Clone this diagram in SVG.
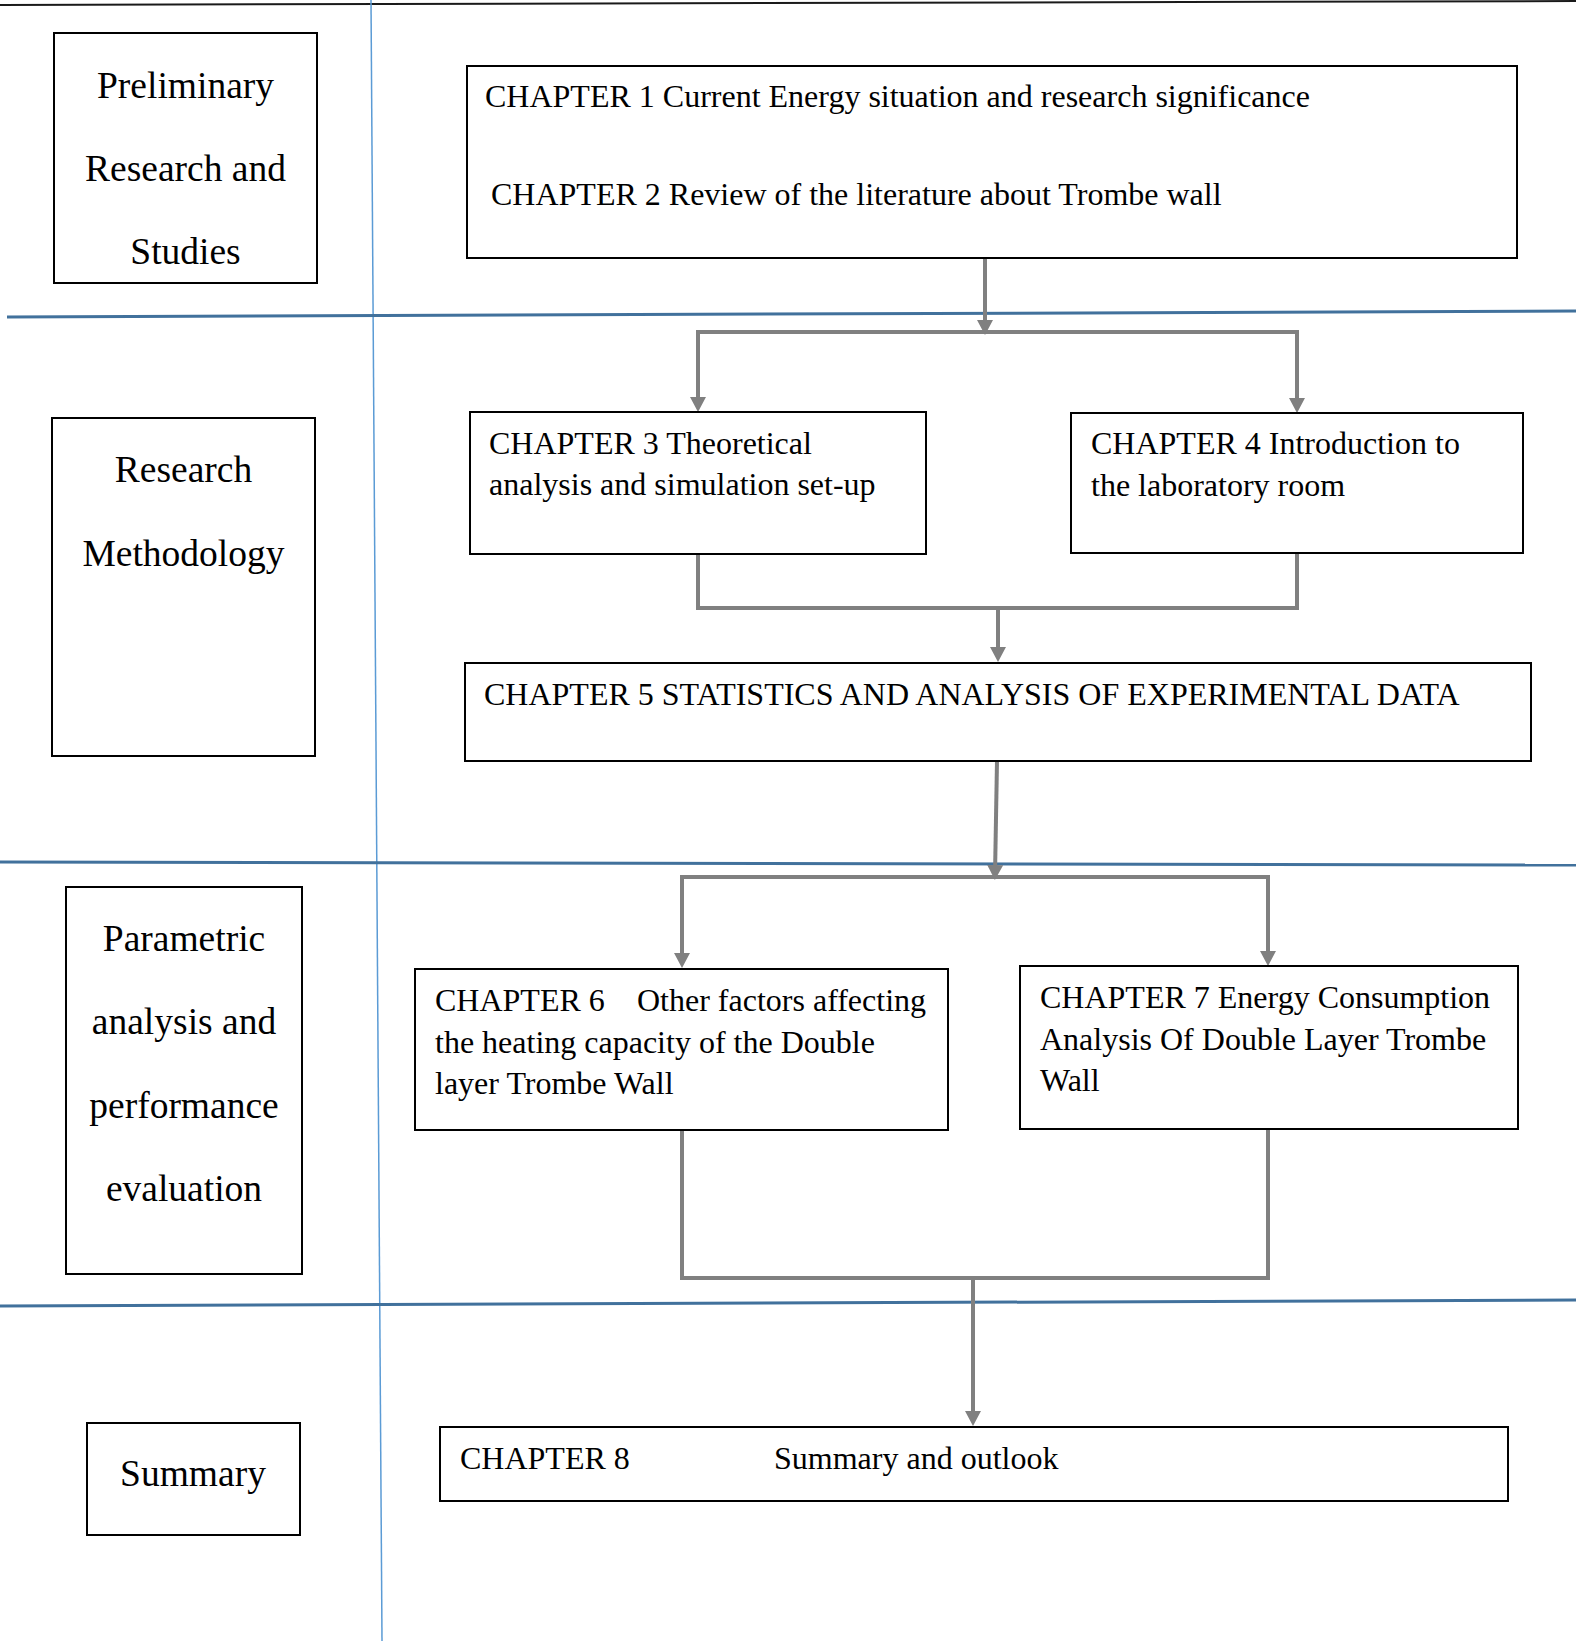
<svg xmlns="http://www.w3.org/2000/svg" width="1576" height="1641" viewBox="0 0 1576 1641">
<style>
.bg{fill:#ffffff}
.box{fill:#ffffff;stroke:#000000;stroke-width:2}
.lbl{font-family:"Liberation Serif","Times New Roman",serif;font-size:37.5px;fill:#000000;text-anchor:middle}
.ch{font-family:"Liberation Serif","Times New Roman",serif;font-size:32px;fill:#000000}
.hsep{stroke:#41719c;stroke-width:3;fill:none}
.vsep{stroke:#5b9bd5;stroke-width:1.5;fill:none}
.conn{stroke:#808080;stroke-width:4;fill:none}
.arr{stroke:#808080;stroke-width:4;fill:none;marker-end:url(#ah)}
</style>
<defs>
<marker id="ah" viewBox="0 0 15 16" refX="10" refY="8" markerWidth="15" markerHeight="16" markerUnits="userSpaceOnUse" orient="auto">
<path d="M0,0 L15,8 L0,16 z" fill="#808080"/>
</marker>
</defs>
<rect class="bg" x="0" y="0" width="1576" height="1641"/>
<g id="grid">
<line x1="0" y1="5" x2="1576" y2="1" stroke="#1a1a1a" stroke-width="2"/>
<line class="vsep" x1="371" y1="0" x2="382" y2="1641"/>
<line class="hsep" x1="7" y1="317" x2="1576" y2="311"/>
<line class="hsep" x1="0" y1="862" x2="1576" y2="865"/>
<line class="hsep" x1="0" y1="1306" x2="1576" y2="1300"/>
</g>
<g id="connectors">
<path class="arr" d="M985,258 V330"/>
<path class="arr" d="M985,332 H698 V407"/>
<path class="arr" d="M985,332 H1297 V408"/>
<path class="conn" d="M698,554 V608 H1297 V553"/>
<path class="arr" d="M998,608 V657"/>
<path class="arr" d="M997,761 L995,875"/>
<path class="arr" d="M995,877 H682 V963"/>
<path class="arr" d="M995,877 H1268 V961"/>
<path class="conn" d="M682,1130 V1278 H1268 V1129"/>
<path class="arr" d="M973,1278 V1421"/>
</g>
<g id="phase-preliminary">
<rect class="box" x="54" y="33" width="263" height="250"/>
<text class="lbl" x="185.5" y="98">Preliminary</text>
<text class="lbl" x="185.5" y="181">Research and</text>
<text class="lbl" x="185.5" y="264">Studies</text>
</g>
<g id="phase-methodology">
<rect class="box" x="52" y="418" width="263" height="338"/>
<text class="lbl" x="183.5" y="482">Research</text>
<text class="lbl" x="183.5" y="566">Methodology</text>
</g>
<g id="phase-parametric">
<rect class="box" x="66" y="887" width="236" height="387"/>
<text class="lbl" x="184" y="951">Parametric</text>
<text class="lbl" x="184" y="1034">analysis and</text>
<text class="lbl" x="184" y="1118">performance</text>
<text class="lbl" x="184" y="1201">evaluation</text>
</g>
<g id="phase-summary">
<rect class="box" x="87" y="1423" width="213" height="112"/>
<text class="lbl" x="193" y="1486">Summary</text>
</g>
<g id="ch1-2">
<rect class="box" x="467" y="66" width="1050" height="192"/>
<text class="ch" x="485" y="107">CHAPTER 1 Current Energy situation and research significance</text>
<text class="ch" x="491" y="205">CHAPTER 2 Review of the literature about Trombe wall</text>
</g>
<g id="ch3">
<rect class="box" x="470" y="412" width="456" height="142"/>
<text class="ch" x="489" y="454">CHAPTER 3 Theoretical</text>
<text class="ch" x="489" y="495">analysis and simulation set-up</text>
</g>
<g id="ch4">
<rect class="box" x="1071" y="413" width="452" height="140"/>
<text class="ch" x="1091" y="454">CHAPTER 4 Introduction to</text>
<text class="ch" x="1091" y="496">the laboratory room</text>
</g>
<g id="ch5">
<rect class="box" x="465" y="663" width="1066" height="98"/>
<text class="ch" x="484" y="705">CHAPTER 5 STATISTICS AND ANALYSIS OF EXPERIMENTAL DATA</text>
</g>
<g id="ch6">
<rect class="box" x="415" y="969" width="533" height="161"/>
<text class="ch" x="435" y="1011">CHAPTER 6<tspan x="637">Other factors affecting</tspan></text>
<text class="ch" x="435" y="1053">the heating capacity of the Double</text>
<text class="ch" x="435" y="1094">layer Trombe Wall</text>
</g>
<g id="ch7">
<rect class="box" x="1020" y="966" width="498" height="163"/>
<text class="ch" x="1040" y="1008">CHAPTER 7 Energy Consumption</text>
<text class="ch" x="1040" y="1050">Analysis Of Double Layer Trombe</text>
<text class="ch" x="1040" y="1091">Wall</text>
</g>
<g id="ch8">
<rect class="box" x="440" y="1427" width="1068" height="74"/>
<text class="ch" x="460" y="1469">CHAPTER 8</text>
<text class="ch" x="774" y="1469">Summary and outlook</text>
</g>
</svg>
